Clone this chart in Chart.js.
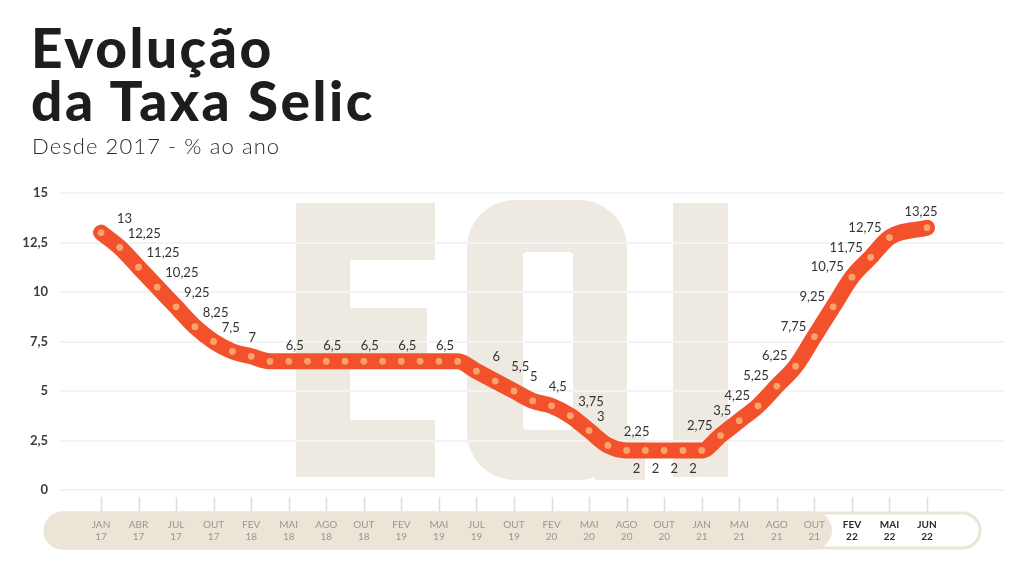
<!DOCTYPE html>
<html lang="pt-BR">
<head>
<meta charset="utf-8">
<title>Evolução da Taxa Selic</title>
<script src="https://cdn.jsdelivr.net/npm/chart.js@4.4.1/dist/chart.umd.min.js"></script>
<style>
  html, body { margin: 0; padding: 0; background: #fff; }
  body { width: 1024px; height: 579px; position: relative; overflow: hidden; font-family: Lato, 'Open Sans', sans-serif; }
  #selicChart { position: absolute; left: 0; top: 0; }
  .title { position: absolute; left: 31px; top: 21px; margin: 0; font-size: 55px; line-height: 52.5px; font-weight: 900; letter-spacing: 2.5px; color: #1c1d1f; }
  .subtitle { position: absolute; left: 32px; top: 134px; margin: 0; font-size: 22px; line-height: 24px; font-weight: 300; letter-spacing: 1.1px; color: #2b2b2b; }
</style>
</head>
<body>
<canvas id="selicChart" width="1024" height="579"></canvas>
<h1 class="title">Evolução<br>da Taxa Selic</h1>
<p class="subtitle">Desde 2017 - % ao ano</p>
<script>
// Selic decided at each Copom meeting, jan/17 to jun/22.
// Two meetings per axis step; null = empty slot (no meeting between mai/22 and jun/22)
const selic = [
  13, 12.25, 11.25, 10.25, 9.25, 8.25, 7.5, 7, 6.75,
  6.5, 6.5, 6.5, 6.5, 6.5, 6.5, 6.5, 6.5, 6.5, 6.5, 6.5,
  6, 5.5, 5, 4.5, 4.25, 3.75, 3, 2.25,
  2, 2, 2, 2, 2,
  2.75, 3.5, 4.25, 5.25, 6.25, 7.75, 9.25, 10.75, 11.75, 12.75, null, 13.25
];

const axisLabels = [
  'JAN 17', 'ABR 17', 'JUL 17', 'OUT 17', 'FEV 18', 'MAI 18', 'AGO 18', 'OUT 18',
  'FEV 19', 'MAI 19', 'JUL 19', 'OUT 19', 'FEV 20', 'MAI 20', 'AGO 20', 'OUT 20',
  'JAN 21', 'MAI 21', 'AGO 21', 'OUT 21', 'FEV 22', 'MAI 22', 'JUN 22'
];

const yTicks = [0, 2.5, 5, 7.5, 10, 12.5, 15];

// points that carry a value label
const labeledPoints = [
  0, 1, 2, 3, 4, 5, 6, 7, 10, 12, 14, 16, 18,
  20, 21, 22, 23, 25, 26, 27, 28, 29, 30, 31,
  33, 34, 35, 36, 37, 38, 39, 40, 41, 42, 44
];

const highlightFrom = 20; // FEV 22 onwards is bold

const slots = selic.map((v, i) => (i % 2 === 0 ? axisLabels[i / 2] : ''));
const fmt = v => String(v).replace('.', ',');

const BEIGE = '#ebe5d8';
const WATERMARK = '#eeeae1';

function pillPath(ctx, x, y, w, h) {
  const r = h / 2;
  ctx.beginPath();
  ctx.moveTo(x + r, y);
  ctx.lineTo(x + w - r, y);
  ctx.arc(x + w - r, y + r, r, -Math.PI / 2, Math.PI / 2);
  ctx.lineTo(x + r, y + h);
  ctx.arc(x + r, y + r, r, Math.PI / 2, Math.PI * 1.5);
  ctx.closePath();
}

function roundRectPath(ctx, x, y, w, h, r) {
  ctx.beginPath();
  ctx.moveTo(x + r, y);
  ctx.arcTo(x + w, y, x + w, y + h, r);
  ctx.arcTo(x + w, y + h, x, y + h, r);
  ctx.arcTo(x, y + h, x, y, r);
  ctx.arcTo(x, y, x + w, y, r);
  ctx.closePath();
}

// big "EQI" logo behind the plot
function drawWatermark(ctx) {
  ctx.fillStyle = WATERMARK;
  // E
  ctx.beginPath();
  ctx.moveTo(296, 203); ctx.lineTo(435, 203); ctx.lineTo(435, 260);
  ctx.lineTo(350, 260); ctx.lineTo(350, 308); ctx.lineTo(427, 308);
  ctx.lineTo(427, 357); ctx.lineTo(350, 357); ctx.lineTo(350, 420);
  ctx.lineTo(435, 420); ctx.lineTo(435, 477); ctx.lineTo(296, 477);
  ctx.closePath();
  ctx.fill();
  // Q
  roundRectPath(ctx, 467, 200, 160, 280, 48);
  ctx.fill();
  ctx.fillRect(595, 436, 50, 44);
  ctx.fillStyle = '#fff';
  roundRectPath(ctx, 523, 252, 50, 178, 4);
  ctx.fill();
  // I
  ctx.fillStyle = WATERMARK;
  ctx.fillRect(673, 203, 55, 274);
}

const decor = {
  id: 'decor',
  beforeDraw(chart) {
    const { ctx, chartArea, scales } = chart;
    ctx.save();
    drawWatermark(ctx);

    // horizontal grid, wider than the plot area
    ctx.strokeStyle = '#f3f3f3';
    ctx.lineWidth = 2;
    yTicks.forEach(t => {
      const y = Math.round(scales.y.getPixelForValue(t));
      ctx.beginPath();
      ctx.moveTo(60, y);
      ctx.lineTo(1004, y);
      ctx.stroke();
    });

    // tick marks above the labels
    ctx.strokeStyle = '#e4ded2';
    ctx.lineWidth = 1.5;
    slots.forEach((s, i) => {
      if (!s) return;
      const x = Math.round(scales.x.getPixelForValue(i)) + 0.5;
      ctx.beginPath();
      ctx.moveTo(x, chartArea.bottom + 7);
      ctx.lineTo(x, chartArea.bottom + 22);
      ctx.stroke();
    });

    // label band: white outlined pill, beige fill up to OUT 21
    const top = chartArea.bottom + 23;
    const h = 35;
    ctx.fillStyle = '#fff';
    ctx.strokeStyle = BEIGE;
    ctx.lineWidth = 3;
    pillPath(ctx, 45, top, 935, h);
    ctx.fill();
    ctx.stroke();
    ctx.fillStyle = BEIGE;
    pillPath(ctx, 44, top - 1.5, 788, h + 3);
    ctx.fill();
    ctx.restore();
  }
};

function prevValue(i) {
  for (let j = i - 1; j >= 0; j--) if (selic[j] !== null) return selic[j];
  return null;
}
function nextValue(i) {
  for (let j = i + 1; j < selic.length; j++) if (selic[j] !== null) return selic[j];
  return null;
}

const valueLabels = {
  id: 'valueLabels',
  afterDatasetsDraw(chart) {
    const { ctx } = chart;
    const pts = chart.getDatasetMeta(0).data;
    const min = Math.min(...selic.filter(v => v !== null));
    ctx.save();
    ctx.font = '13px Lato';
    ctx.fillStyle = '#333';
    ctx.textBaseline = 'middle';
    labeledPoints.forEach(i => {
      const v = selic[i];
      const p = pts[i];
      const prev = prevValue(i);
      const next = nextValue(i);
      let x = p.x, y = p.y;
      if (v === min) {
        ctx.textAlign = 'center'; x += 10; y += 18;
      } else if (next === null) {
        ctx.textAlign = 'center'; x -= 6; y -= 16;
      } else if (prev === v && next === v) {
        ctx.textAlign = 'center'; x += 6; y -= 15;
      } else if (next > v) {
        ctx.textAlign = 'right'; x -= 8; y -= 10;
      } else {
        // flatter slopes push the label further right
        const drop = (prev === null ? v - next : prev - next) / 2;
        ctx.textAlign = 'left'; x += drop < 0.6 ? 16 : 8; y -= 14;
      }
      ctx.fillText(fmt(v), x, y);
    });
    ctx.restore();
  }
};

Chart.defaults.font.family = 'Lato';

new Chart(document.getElementById('selicChart'), {
  type: 'line',
  data: {
    labels: slots,
    datasets: [{
      data: selic,
      borderColor: '#f2512c',
      borderWidth: 16,
      borderCapStyle: 'round',
      borderJoinStyle: 'round',
      cubicInterpolationMode: 'monotone',
      spanGaps: true,
      fill: false,
      clip: false,
      pointRadius: 3.4,
      pointHoverRadius: 3.4,
      pointBorderWidth: 0,
      pointBackgroundColor: '#f6a46b'
    }]
  },
  options: {
    responsive: false,
    animation: false,
    events: [],
    layout: { padding: { top: 193, left: 20, right: 97, bottom: 0 } },
    plugins: { legend: { display: false }, tooltip: { enabled: false } },
    scales: {
      x: {
        type: 'category',
        grid: { display: false, drawTicks: false },
        border: { display: false },
        afterFit(scale) { scale.height = 89; },
        ticks: {
          autoSkip: false,
          maxRotation: 0,
          padding: 29,
          color: c => (c.index >= highlightFrom * 2 ? '#2b2b2b' : '#9b968d'),
          font: c => ({ size: 10, lineHeight: 1.17, weight: c.index >= highlightFrom * 2 ? 'bold' : 'normal' }),
          callback(value) {
            const l = this.getLabelForValue(value);
            return l ? l.split(' ') : '';
          }
        }
      },
      y: {
        min: 0,
        max: 15,
        grid: { display: false, drawTicks: false },
        border: { display: false },
        afterFit(scale) { scale.width = 81; },
        afterBuildTicks(scale) { scale.ticks = yTicks.map(v => ({ value: v })); },
        ticks: {
          padding: 53,
          color: '#3d3d3d',
          font: { size: 13, weight: 'bold' },
          callback: v => fmt(v)
        }
      }
    }
  },
  plugins: [decor, valueLabels]
});
</script>
</body>
</html>
